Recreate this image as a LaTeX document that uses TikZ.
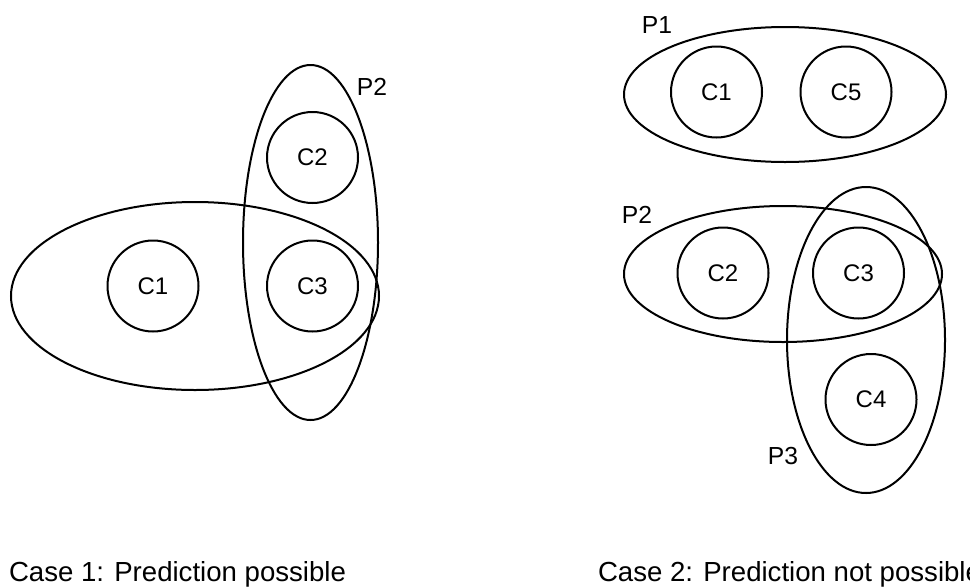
\documentclass[tikz,border=0pt]{standalone}
\usepackage{fontspec}
\setmainfont{Liberation Sans}
\usetikzlibrary{shapes.geometric}
\begin{document}
\begin{tikzpicture}[x=0.75pt,y=-0.75pt,
  line width=1.5pt,
  cls/.style={circle, draw, minimum size=68.25pt, inner sep=0pt, font=\fontsize{18}{20}\selectfont},
  part/.style={ellipse, draw, inner sep=0pt},
  plabel/.style={font=\fontsize{18.5}{20}\selectfont, inner sep=0pt},
  capt/.style={font=\fontsize{20.7}{24}\selectfont, inner sep=0pt, anchor=base west}]
\useasboundingbox (0,0) rectangle (970,586);
% Case 1
\node[part, minimum width=276pt, minimum height=141pt] (LP1) at (195,296) {};
\node[part, minimum width=101.25pt, minimum height=266.25pt] (LP2) at (310.5,242.5) {};
\node[cls] (LC1) at (153,286) {C1};
\node[cls] (LC2) at (312.5,157.5) {C2};
\node[cls] (LC3) at (312.5,286) {C3};
\node[plabel] (LP2l) at (372,87) {P2};
% Case 2
\node[part, minimum width=241.5pt, minimum height=101.25pt] (RP1) at (785,94.5) {};
\node[part, minimum width=238.5pt, minimum height=102pt] (RP2) at (783,274) {};
\node[part, minimum width=118.5pt, minimum height=229.5pt] (RP3) at (866,340) {};
\node[cls] (RC1) at (716.5,92) {C1};
\node[cls] (RC5) at (846,92) {C5};
\node[cls] (RC2) at (723,273) {C2};
\node[cls] (RC3) at (858.5,273) {C3};
\node[cls] (RC4) at (871,399.5) {C4};
\node[plabel] (RP1l) at (657,25) {P1};
\node[plabel] (RP2l) at (637,215) {P2};
\node[plabel] (RP3l) at (783,456) {P3};
% captions
\node[capt] (cap1) at (8,581) {Case 1: Prediction possible};
\node[capt] (cap2) at (597,581) {Case 2: Prediction not possible};
\end{tikzpicture}
\end{document}
